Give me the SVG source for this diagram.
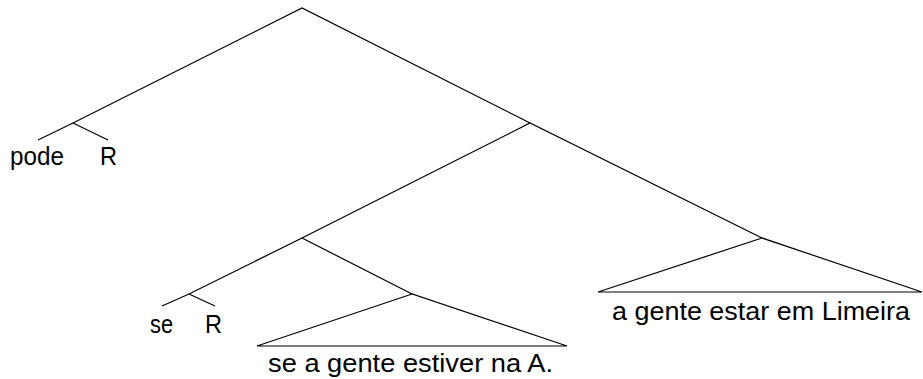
<svg xmlns="http://www.w3.org/2000/svg" width="923" height="379" viewBox="0 0 923 379">
  <style>
    .edge { stroke: #000; stroke-width: 1.2; fill: none; }
    .lbl { font-family: "Liberation Sans", "DejaVu Sans", sans-serif; font-size: 25px; fill: #000; }
  </style>
  <rect width="923" height="379" fill="#fff"/>
  <g id="connectors">
    <polyline class="edge" points="73,123 302,8 530,123"/>
    <line class="edge" x1="73" y1="123" x2="38" y2="140"/>
    <line class="edge" x1="73" y1="123" x2="108" y2="140"/>
    <polyline class="edge" points="302,238 530,123 762,238"/>
    <line class="edge" x1="302" y1="238" x2="189" y2="294"/>
    <line class="edge" x1="302" y1="238" x2="412" y2="294"/>
    <line class="edge" x1="189" y1="294" x2="162" y2="306"/>
    <line class="edge" x1="189" y1="294" x2="215" y2="306"/>
  </g>
  <g id="node-pode">
    <text class="lbl" x="10" y="165" textLength="54" lengthAdjust="spacingAndGlyphs">pode</text>
  </g>
  <g id="node-R1">
    <text class="lbl" x="100" y="165" textLength="17" lengthAdjust="spacingAndGlyphs">R</text>
  </g>
  <g id="node-se">
    <text class="lbl" x="150" y="333" textLength="23" lengthAdjust="spacingAndGlyphs">se</text>
  </g>
  <g id="node-R2">
    <text class="lbl" x="205" y="333" textLength="17" lengthAdjust="spacingAndGlyphs">R</text>
  </g>
  <g id="node-estiver">
    <polygon class="edge" points="412,294 257,346 567,346"/>
    <text class="lbl" x="268" y="372" textLength="285" lengthAdjust="spacingAndGlyphs">se a gente estiver na A.</text>
  </g>
  <g id="node-limeira">
    <polygon class="edge" points="762,238 598,292 922,292"/>
    <text class="lbl" x="612" y="320" textLength="298" lengthAdjust="spacingAndGlyphs">a gente estar em Limeira</text>
  </g>
</svg>
